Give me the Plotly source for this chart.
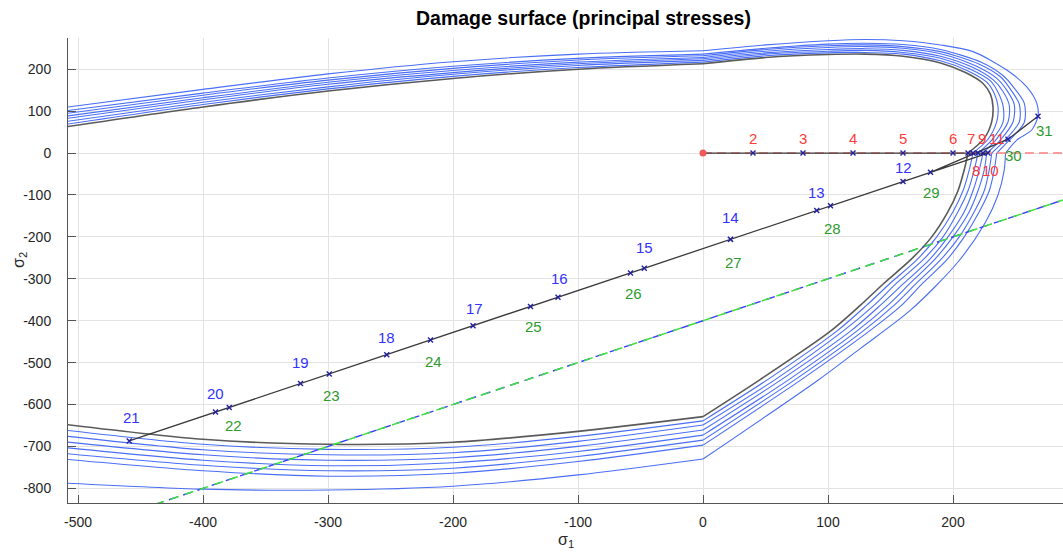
import plotly.graph_objects as go

# ---------------- damage surfaces in the principal stress plane ----------------
# left branches are sampled at common sigma_1 stations
SIG1_LEFT = [-520, -400, -300, -200, -100, 0]

# initial damage surface (grey)
BASE_TOP = [58, 110, 148, 178, 200, 213]
BASE_BOT = [-644, -683, -695, -690, -664, -629]
BASE_RX = [0, 50, 100, 130, 160, 190, 210, 224, 230, 232, 231, 225, 212,
           209, 204, 196, 183, 166, 145, 126, 102, 46, 0]
BASE_RY = [213, 228, 235, 236, 231, 215, 192, 166, 140, 110, 75, 35, 0,
           -40, -90, -140, -200, -255, -310, -363, -425, -540, -629]

# surfaces after successive loading steps (blue)
GROW_TOP = [
    [64, 116, 153, 183, 204, 217],
    [71, 121, 158, 188, 209, 221],
    [78, 127, 164, 192, 213, 225],
    [84, 132, 169, 197, 217, 228],
    [90, 138, 174, 202, 222, 232],
    [97, 143, 179, 207, 226, 236],
]
GROW_BOT = [
    [-658, -695, -707, -702, -676, -639],
    [-672, -708, -720, -715, -688, -649],
    [-686, -720, -733, -727, -700, -661],
    [-700, -733, -746, -739, -712, -673],
    [-714, -745, -758, -752, -724, -685],
    [-728, -758, -771, -764, -736, -697],
]
GROW_RX = [
    [0, 50, 100, 130, 160, 190, 212, 227, 233, 236, 235, 228, 216,
     213, 208, 200, 187, 171, 150, 131, 107, 52, 0],
    [0, 50, 100, 130, 160, 190, 214, 230, 236, 240, 240, 231, 220,
     217, 212, 204, 192, 176, 155, 137, 112, 58, 0],
    [0, 50, 100, 130, 160, 190, 216, 232, 240, 245, 244, 234, 224,
     221, 216, 209, 196, 181, 161, 142, 118, 63, 0],
    [0, 50, 100, 130, 160, 190, 218, 235, 243, 249, 248, 237, 227,
     225, 220, 213, 200, 185, 166, 148, 123, 69, 0],
    [0, 50, 100, 130, 160, 190, 221, 238, 246, 253, 253, 240, 231,
     229, 225, 217, 205, 190, 171, 153, 128, 74, 0],
    [0, 50, 100, 130, 160, 190, 223, 240, 249, 257, 257, 243, 235,
     233, 229, 221, 209, 195, 176, 159, 133, 79, 0],
]
GROW_RY = [
    [217, 232, 239, 240, 236, 220, 196, 169, 142, 111, 75, 33, 0,
     -40, -90, -140, -200, -255, -310, -363, -425, -540, -639],
    [221, 236, 243, 245, 240, 226, 200, 172, 145, 113, 74, 31, 0,
     -40, -90, -140, -200, -255, -310, -363, -425, -540, -649],
    [225, 239, 247, 249, 245, 231, 204, 175, 147, 114, 74, 30, 0,
     -40, -90, -140, -200, -255, -310, -363, -425, -540, -661],
    [228, 243, 252, 254, 250, 237, 208, 178, 150, 116, 74, 28, 0,
     -40, -90, -140, -200, -255, -310, -363, -425, -540, -673],
    [232, 247, 256, 258, 254, 242, 212, 182, 152, 117, 74, 26, 0,
     -40, -90, -140, -200, -255, -310, -363, -425, -540, -685],
    [236, 250, 260, 262, 259, 247, 216, 185, 155, 119, 73, 24, 0,
     -40, -90, -140, -200, -255, -310, -363, -425, -540, -697],
]

# final (largest) damage surface
LAST_TOP = [105, 152, 189, 218, 236, 244]
LAST_BOT = [-786, -802, -804, -795, -768, -730]
LAST_RX = [0, 50, 100, 130, 160, 190, 216, 243, 259, 267, 268, 263, 251, 242,
           241, 236, 226, 204, 166, 126, 92, 0]
LAST_RY = [244, 258, 268, 271, 268, 258, 242, 198, 158, 119, 88, 55, 31, 0,
           -40, -100, -165, -260, -375, -466, -542, -730]

# ---------------- loading path ----------------
PATH_S1 = [0, 40, 80, 120, 160, 200, 212, 216, 220, 224, 228,
           160, 91, 22, -47, -116, -184, -253, -322, -390, -459,
           -379, -299, -218, -138, -58, 22, 102, 182, 244, 268]
PATH_S2 = [0, 0, 0, 0, 0, 0, 0, 0, 0, 0, 0,
           -68, -137, -206, -275, -344, -412, -481, -550, -618, -687,
           -607, -527, -446, -366, -286, -206, -126, -46, 33, 88]
STEP_IDS = list(range(1, 32))

# reference lines
UNIAX_S1 = [0, 300]
UNIAX_S2 = [0, 0]
SHEAR_S1 = [-450, 300]
SHEAR_S2 = [-850, -100]

X_TICKS = [-500, -400, -300, -200, -100, 0, 100, 200]
Y_TICKS = [200, 100, 0, -100, -200, -300, -400, -500, -600, -700, -800]

# ---------------- styling ----------------
FONT = "Liberation Sans, Arial, Helvetica, sans-serif"
GREY = "#5a5a5a"
BLUE = "#4a6ef5"
RED_TXT = "#ff3b3b"
BLUE_TXT = "#3333ff"
GREEN_TXT = "#2e9a2e"

# label offsets in pixels (dx, dy) for steps 2..31
LABEL_SHIFT = {
    2: (0, 15), 3: (0, 15), 4: (0, 15), 5: (0, 15), 6: (0, 15),
    7: (3, 15), 8: (3, -17), 9: (4, 15), 10: (7, -17), 11: (9, 15),
    12: (0, 14), 13: (0, 18), 14: (0, 22), 15: (0, 21), 16: (1, 19),
    17: (1, 17), 18: (0, 17), 19: (0, 21), 20: (0, 19), 21: (2, 23),
    22: (4, -18), 23: (2, -22), 24: (3, -22), 25: (3, -20), 26: (3, -21),
    27: (3, -23), 28: (2, -23), 29: (1, -20), 30: (5, -16), 31: (6, -14),
}

fig = go.Figure()


def add_surface(top, bot, rx, ry, color, width):
    k = ry.index(0)
    pieces = [
        (SIG1_LEFT, top),
        (rx[:k + 1], ry[:k + 1]),
        (rx[k:], ry[k:]),
        (SIG1_LEFT, bot),
    ]
    for xs, ys in pieces:
        fig.add_trace(go.Scatter(
            x=xs, y=ys, mode="lines", hoverinfo="skip",
            line=dict(color=color, width=width, shape="spline", smoothing=0.8),
        ))


add_surface(LAST_TOP, LAST_BOT, LAST_RX, LAST_RY, BLUE, 1.1)
for i in range(len(GROW_TOP) - 1, -1, -1):
    add_surface(GROW_TOP[i], GROW_BOT[i], GROW_RX[i], GROW_RY[i], BLUE, 1.1)
add_surface(BASE_TOP, BASE_BOT, BASE_RX, BASE_RY, GREY, 1.6)

# reference lines
fig.add_trace(go.Scatter(x=UNIAX_S1, y=UNIAX_S2, mode="lines", hoverinfo="skip",
                         line=dict(color="#ff8080", width=1.5, dash="9px,5px")))
fig.add_trace(go.Scatter(x=SHEAR_S1, y=SHEAR_S2, mode="lines", hoverinfo="skip",
                         line=dict(color="#3b3bff", width=1.4, dash="9px,6px")))
fig.add_trace(go.Scatter(x=SHEAR_S1, y=SHEAR_S2, mode="lines", hoverinfo="skip",
                         line=dict(color="#3ee03e", width=1.5, dash="9px,6.6px")))

# loading path
fig.add_trace(go.Scatter(x=PATH_S1, y=PATH_S2, mode="lines", hoverinfo="skip",
                         line=dict(color="#3a3a3a", width=1.3)))
fig.add_trace(go.Scatter(x=PATH_S1[1:], y=PATH_S2[1:], mode="markers", hoverinfo="skip",
                         marker=dict(symbol="x-thin", size=5,
                                     line=dict(width=1.4, color="#2020a0"))))
fig.add_trace(go.Scatter(x=PATH_S1[:1], y=PATH_S2[:1], mode="markers", hoverinfo="skip",
                         marker=dict(symbol="circle", size=7, color="#f05a5a",
                                     line=dict(width=0))))

# step numbers
for idx, s1, s2 in zip(STEP_IDS, PATH_S1, PATH_S2):
    if idx == 1:
        continue
    if idx <= 11:
        col = RED_TXT
    elif idx <= 21:
        col = BLUE_TXT
    else:
        col = GREEN_TXT
    dx, dy = LABEL_SHIFT[idx]
    fig.add_annotation(x=s1, y=s2, text=str(idx), showarrow=False,
                       xshift=dx, yshift=dy,
                       font=dict(family=FONT, size=15, color=col))

# title and axis labels
fig.add_annotation(xref="paper", yref="paper", x=0.5176, y=1, yshift=20,
                   yanchor="middle", showarrow=False,
                   text="<b>Damage surface (principal stresses)</b>",
                   font=dict(family=FONT, size=19.5, color="#000000"))
fig.add_annotation(xref="paper", yref="paper", x=0.5, y=0, yshift=-37,
                   yanchor="middle", showarrow=False, text="σ<sub>1</sub>",
                   font=dict(family=FONT, size=16, color="#262626"))
fig.add_annotation(xref="paper", yref="paper", x=0, xshift=-48, y=0.5226,
                   xanchor="center", yanchor="middle", showarrow=False,
                   textangle=-90, text="σ<sub>2</sub>",
                   font=dict(family=FONT, size=16, color="#262626"))

axis_common = dict(
    showgrid=True, gridcolor="#e3e3e3", gridwidth=1,
    zeroline=False, showline=True, linecolor="#555555", linewidth=1,
    ticks="inside", ticklen=8, tickwidth=1, tickcolor="#555555",
    tickfont=dict(family=FONT, size=14, color="#262626"),
    mirror=False,
)

fig.update_layout(
    width=1063, height=557, autosize=False,
    margin=dict(l=68, r=0, t=38, b=54),
    paper_bgcolor="white", plot_bgcolor="white",
    showlegend=False,
    xaxis=dict(range=[-508, 288], tickvals=X_TICKS,
               ticktext=[str(v) for v in X_TICKS], ticklabelstandoff=6,
               **axis_common),
    yaxis=dict(range=[-835, 274.5], tickvals=Y_TICKS,
               ticktext=[str(v) for v in Y_TICKS], ticklabelstandoff=13,
               **axis_common),
)

fig.write_html("out.html")
